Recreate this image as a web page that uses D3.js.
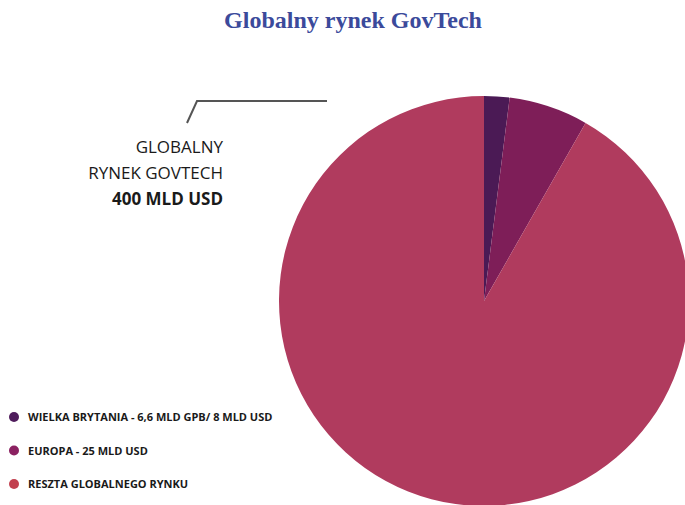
<!DOCTYPE html>
<html>
<head>
<meta charset="utf-8">
<script src="https://cdn.jsdelivr.net/npm/d3@7"></script>
<style>
  body { margin: 0; background: #fff; }
  svg { display: block; }
</style>
</head>
<body>
<div id="chart"></div>
<script>
// data
const categories = ['WIELKA BRYTANIA - 6,6 MLD GPB/ 8 MLD USD', 'EUROPA - 25 MLD USD', 'RESZTA GLOBALNEGO RYNKU'];
const values = [8, 25, 367];
const sliceColors = ['#4b1a55', '#7e1e58', '#b03b5e'];
const legendColors = ['#4f1c5c', '#8b2161', '#c2404f'];
const totalLines = ['GLOBALNY', 'RYNEK GOVTECH', '400 MLD USD'];

const width = 685, height = 505;
const svg = d3.select('#chart').append('svg')
  .attr('width', width)
  .attr('height', height);

// title
svg.append('text')
  .attr('x', 353).attr('y', 28)
  .attr('text-anchor', 'middle')
  .attr('font-family', 'Liberation Serif, DejaVu Serif, serif')
  .attr('font-weight', 'bold')
  .attr('font-size', 24)
  .attr('fill', '#3b4a9b')
  .text('Globalny rynek GovTech');

// pie
const radius = 205;
const g = svg.append('g').attr('transform', 'translate(484,301)');
const pie = d3.pie().sort(null).value(d => d);
const arc = d3.arc().innerRadius(0).outerRadius(radius);

g.selectAll('path')
  .data(pie(values))
  .enter().append('path')
  .attr('d', arc)
  .attr('fill', (d, i) => sliceColors[i]);

// leader line
svg.append('polyline')
  .attr('points', '187,123 197,101 327,101')
  .attr('fill', 'none')
  .attr('stroke', '#555')
  .attr('stroke-width', 2);

// total text
svg.selectAll('.total')
  .data(totalLines)
  .enter().append('text')
  .attr('class', 'total')
  .attr('x', 223)
  .attr('y', (d, i) => 153 + i * 26)
  .attr('text-anchor', 'end')
  .attr('font-family', 'Open Sans, sans-serif')
  .attr('font-size', 17)
  .attr('font-weight', (d, i) => i === 2 ? 700 : 500)
  .attr('fill', '#1a1a1a')
  .text(d => d);

// legend
const legend = svg.selectAll('.legend')
  .data(categories)
  .enter().append('g')
  .attr('class', 'legend')
  .attr('transform', (d, i) => `translate(0,${417 + i * 33.5})`);

legend.append('circle')
  .attr('cx', 14).attr('cy', 0).attr('r', 5)
  .attr('fill', (d, i) => legendColors[i]);

legend.append('text')
  .attr('x', 28).attr('y', 4)
  .attr('font-family', 'Open Sans, sans-serif')
  .attr('font-size', 11)
  .attr('font-weight', 700)
  .attr('fill', '#1a1a1a')
  .text(d => d);
</script>
</body>
</html>
